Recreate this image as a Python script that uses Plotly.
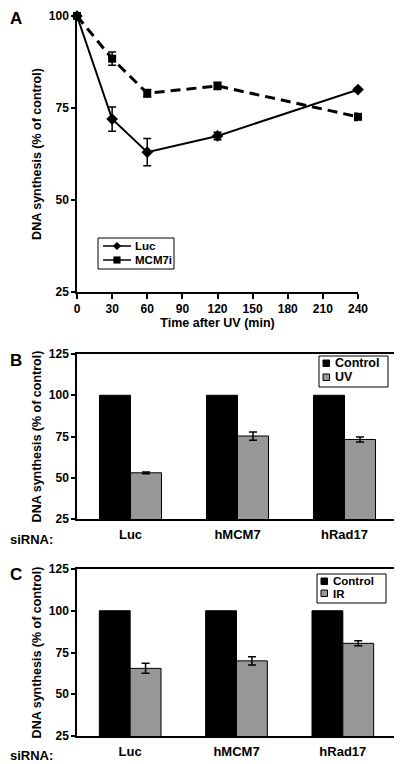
import plotly.graph_objects as go

# ---- Panel A data ----
time_min = [0, 30, 60, 120, 240]
luc_vals = [100, 72, 63, 67.4, 80]
luc_err = [0, 3.3, 3.7, 1.0, 0.5]
mcm_vals = [100, 88.4, 79, 81, 72.6]
mcm_err = [0, 1.8, 1.0, 1.0, 1.0]
a_xticks = [0, 30, 60, 90, 120, 150, 180, 210, 240]
yticks = [25, 50, 75, 100]

# ---- Panel B / C data ----
sirna = ["Luc", "hMCM7", "hRad17"]
b_control = [100, 100, 100]
b_uv = [53, 75.3, 73.2]
b_uv_err = [0.5, 2.5, 1.5]
c_control = [100, 100, 100]
c_ir = [65.5, 70, 80.5]
c_ir_err = [3.0, 2.5, 1.5]
bc_yticks = [25, 50, 75, 100, 125]

FONT = "Liberation Sans, Arial, sans-serif"
OFF = 8                      # page body margin
W, H = 402 - OFF, 764 - OFF
GRAY = "#979797"


def px_x(p):
    return (p - OFF) / W


def px_y(p):
    return 1 - (p - OFF) / H


fig = go.Figure()

# Panel A
fig.add_trace(go.Scatter(
    x=time_min, y=luc_vals, name="Luc", mode="lines+markers",
    line=dict(color="black", width=2),
    marker=dict(symbol="diamond", size=9, color="black"),
    error_y=dict(type="data", array=luc_err, color="black", thickness=1.5, width=4),
    xaxis="x", yaxis="y", cliponaxis=False,
))
fig.add_trace(go.Scatter(
    x=time_min, y=mcm_vals, name="MCM7i", mode="lines+markers",
    line=dict(color="black", width=3, dash="10px,6px"),
    marker=dict(symbol="square", size=8, color="black"),
    error_y=dict(type="data", array=mcm_err, color="black", thickness=1.5, width=4),
    xaxis="x", yaxis="y", cliponaxis=False,
))

# Panel B
fig.add_trace(go.Bar(
    x=sirna, y=b_control, name="Control", marker=dict(color="black", line=dict(color="black", width=1)),
    xaxis="x2", yaxis="y2",
))
fig.add_trace(go.Bar(
    x=sirna, y=b_uv, name="UV", marker=dict(color=GRAY, line=dict(color="black", width=1)),
    error_y=dict(type="data", array=b_uv_err, color="black", thickness=1.5, width=4),
    xaxis="x2", yaxis="y2",
))

# Panel C
fig.add_trace(go.Bar(
    x=sirna, y=c_control, name="Control", marker=dict(color="black", line=dict(color="black", width=1)),
    xaxis="x3", yaxis="y3",
))
fig.add_trace(go.Bar(
    x=sirna, y=c_ir, name="IR", marker=dict(color=GRAY, line=dict(color="black", width=1)),
    error_y=dict(type="data", array=c_ir_err, color="black", thickness=1.5, width=4),
    xaxis="x3", yaxis="y3",
))

tickfont = dict(family=FONT, size=12, color="black", weight="bold")
titlefont = dict(family=FONT, size=12.5, color="black", weight="bold")
ytitle = "DNA synthesis (% of control)"

common_y = dict(showgrid=False, zeroline=False, showline=True, linecolor="black", linewidth=1.5,
                ticks="outside", ticklen=4, tickwidth=1.5, tickcolor="black", tickfont=tickfont,
                automargin=False, ticklabeloverflow="allow")
cat_x = dict(showgrid=False, zeroline=False, showline=True, mirror=True, linecolor="black",
             linewidth=1.5, ticks="", automargin=False,
             tickfont=dict(family=FONT, size=13, color="black", weight="bold"), ticklabelstandoff=3)

fig.update_layout(
    template="none",
    width=W, height=H, margin=dict(l=0, r=0, t=0, b=0, pad=0),
    paper_bgcolor="white", plot_bgcolor="white",
    font=dict(family=FONT, color="black"),
    barmode="group", bargap=0.42, bargroupgap=0,
    showlegend=False,
    xaxis=dict(domain=[px_x(77), px_x(358)], anchor="y", range=[0, 240],
               tickvals=a_xticks, showgrid=False, zeroline=False, showline=True,
               linecolor="black", linewidth=1.5, ticks="outside", ticklen=5, tickwidth=1.5,
               tickcolor="black", tickfont=tickfont, automargin=False,
               title=dict(text="Time after UV (min)",
                          font=dict(family=FONT, size=12.5, color="black", weight="bold"), standoff=2)),
    yaxis=dict(domain=[px_y(292), px_y(16)], anchor="x", range=[25, 100], tickvals=yticks,
               title=dict(text=ytitle, font=titlefont, standoff=4), **common_y),
    xaxis2=dict(domain=[px_x(77), px_x(398)], anchor="y2", **cat_x),
    yaxis2=dict(domain=[px_y(519), px_y(354)], anchor="x2", range=[25, 125], tickvals=bc_yticks,
                mirror=True, title=dict(text=ytitle, font=titlefont, standoff=4), **common_y),
    xaxis3=dict(domain=[px_x(77), px_x(396)], anchor="y3", **cat_x),
    yaxis3=dict(domain=[px_y(736), px_y(569)], anchor="x3", range=[25, 125], tickvals=bc_yticks,
                mirror=True, title=dict(text=ytitle, font=titlefont, standoff=4), **common_y),
)

# ---- manual legends (paper coords from page-pixel positions) ----
shapes = []
annots = []


def box(x0, y0, x1, y1):
    shapes.append(dict(type="rect", xref="paper", yref="paper", x0=px_x(x0), x1=px_x(x1),
                       y0=px_y(y1), y1=px_y(y0), line=dict(color="black", width=1), fillcolor="white",
                       layer="above"))


def swatch(x0, y0, size, color):
    shapes.append(dict(type="rect", xref="paper", yref="paper", x0=px_x(x0), x1=px_x(x0 + size),
                       y0=px_y(y0 + size), y1=px_y(y0), line=dict(color="black", width=1), fillcolor=color,
                       layer="above"))


def label(x, y, txt, size):
    annots.append(dict(text="<b>%s</b>" % txt, xref="paper", yref="paper", x=px_x(x), y=px_y(y),
                       xanchor="left", yanchor="middle", showarrow=False,
                       font=dict(family=FONT, size=size, color="black")))


# Legend A
box(98, 238, 174, 269)
for yy, txt, sym in [(246, "Luc", "diamond"), (260, "MCM7i", "square")]:
    shapes.append(dict(type="line", xref="paper", yref="paper", x0=px_x(103), x1=px_x(131),
                       y0=px_y(yy), y1=px_y(yy), line=dict(color="black", width=1.5), layer="above"))
    cx, cy, r = 117, yy, 3.8
    if sym == "diamond":
        path = "M %f,%f L %f,%f L %f,%f L %f,%f Z" % (
            px_x(cx - r), px_y(cy), px_x(cx), px_y(cy - r), px_x(cx + r), px_y(cy), px_x(cx), px_y(cy + r))
    else:
        r = 3.3
        path = "M %f,%f L %f,%f L %f,%f L %f,%f Z" % (
            px_x(cx - r), px_y(cy - r), px_x(cx + r), px_y(cy - r), px_x(cx + r), px_y(cy + r),
            px_x(cx - r), px_y(cy + r))
    shapes.append(dict(type="path", xref="paper", yref="paper", path=path, fillcolor="black",
                       line=dict(color="black", width=0.5), layer="above"))
    label(133, yy, txt, 11.5)

# Legend B
box(319, 356, 388, 387)
swatch(323, 360, 6.5, "black")
swatch(323, 374, 6.5, GRAY)
label(333, 363, "Control", 12.5)
label(333, 377, "UV", 12.5)

# Legend C
box(317, 574, 386, 603)
swatch(321, 578, 6.5, "black")
swatch(321, 590, 6.5, GRAY)
label(331, 581, "Control", 11.5)
label(331, 594, "IR", 11.5)

for y in (539, 755):
    label(8, y, "siRNA:", 13)
for txt, y in [("A", 19), ("B", 360), ("C", 574)]:
    annots.append(dict(text="<b>%s</b>" % txt, xref="paper", yref="paper", x=px_x(8), y=px_y(y),
                       xanchor="left", yanchor="middle", showarrow=False,
                       font=dict(family=FONT, size=17, color="black")))

fig.update_layout(shapes=shapes, annotations=annots)

fig.write_html("out.html")
